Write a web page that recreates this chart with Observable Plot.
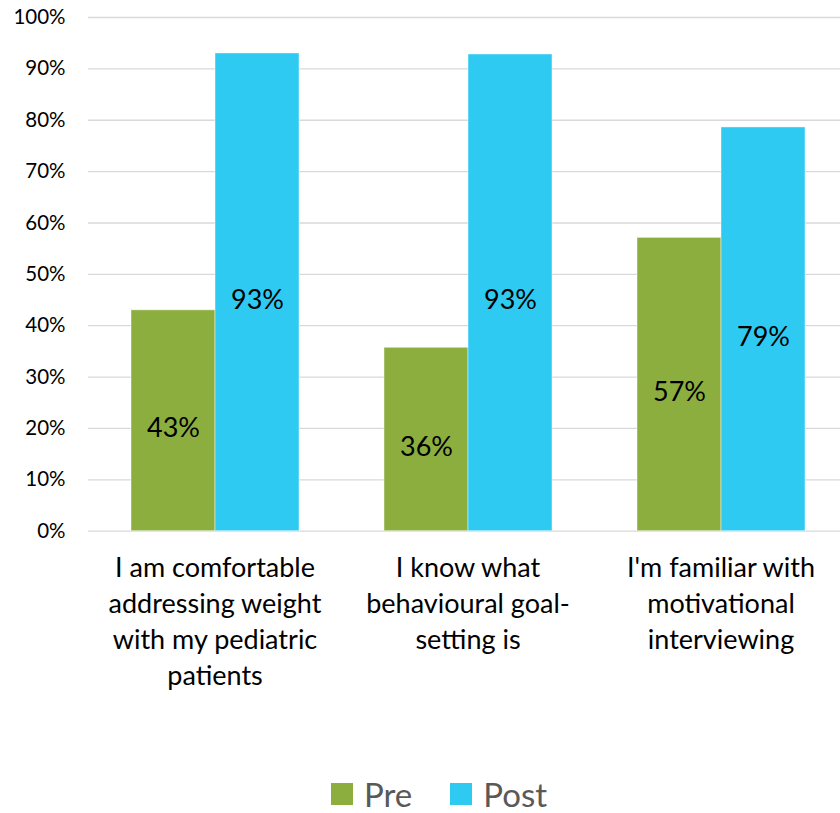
<!DOCTYPE html>
<html>
<head>
<meta charset="utf-8">
<script src="https://cdn.jsdelivr.net/npm/d3@7"></script>
<script src="https://cdn.jsdelivr.net/npm/@observablehq/plot@0.6"></script>
<style>
  html, body { margin: 0; padding: 0; background: #fff; }
  #chart { width: 840px; }
  .legend { display: flex; justify-content: center; align-items: center; padding-left: 38px;
            height: 36px; line-height: 36px; font-family: Lato, sans-serif; font-size: 33px; color: #595959; }
  .legend .item { display: flex; align-items: center; margin: 0 19px; }
  .legend .sw { width: 22px; height: 22px; margin-right: 11px; }
</style>
</head>
<body>
<div id="chart"></div>
<script>
const categories = [
  "I am comfortable\naddressing weight\nwith my pediatric\npatients",
  "I know what\nbehavioural goal-\nsetting is",
  "I'm familiar with\nmotivational\ninterviewing"
];
const series = ["Pre", "Post"];
const preValues = [0.43, 0.357, 0.571];
const postValues = [0.93, 0.928, 0.786];
const yTicks = [0, 0.1, 0.2, 0.3, 0.4, 0.5, 0.6, 0.7, 0.8, 0.9, 1.0];
const colors = ["#8cae3f", "#2ecaf2"];

const data = [];
categories.forEach((c, i) => {
  data.push({cat: c, series: "Pre", value: preValues[i]});
  data.push({cat: c, series: "Post", value: postValues[i]});
});
const pct = d3.format(".0%");

const chart = Plot.plot({
  width: 840,
  height: 776,
  marginLeft: 88,
  marginRight: -7,
  marginTop: 17,
  marginBottom: 245.3,
  style: {fontFamily: "Lato, sans-serif", color: "#000", background: "#fff"},
  fx: {domain: categories, paddingInner: 0, paddingOuter: 0, label: null},
  x: {domain: series, paddingInner: 0, paddingOuter: 0.494, axis: null},
  y: {domain: [0, 1], label: null},
  color: {domain: series, range: colors},
  marks: [
    Plot.ruleY(yTicks, {y: d => d, stroke: "#d9d9d9", strokeWidth: 1.3}),
    Plot.barY(data, {fx: "cat", x: "series", y: "value", fill: "series", stroke: "#ffffff", strokeOpacity: 0.45, strokeWidth: 1}),
    Plot.text(data, {fx: "cat", x: "series", y: d => d.value / 2, text: d => pct(d.value), fontSize: 27, fill: "#000", dy: 8}),
    Plot.axisY(yTicks, {tickSize: 0, tickPadding: 23, fontSize: 20.5, tickFormat: pct, label: null}),
    Plot.axisFx({anchor: "bottom", tickSize: 0, tickPadding: 20.5, fontSize: 27, lineHeight: 1.333, label: null})
  ]
});
document.getElementById("chart").appendChild(chart);

const legend = document.createElement("div");
legend.className = "legend";
series.forEach((s, i) => {
  const item = document.createElement("div");
  item.className = "item";
  const sw = document.createElement("span");
  sw.className = "sw";
  sw.style.background = colors[i];
  const t = document.createElement("span");
  t.textContent = s;
  item.appendChild(sw);
  item.appendChild(t);
  legend.appendChild(item);
});
document.getElementById("chart").appendChild(legend);
</script>
</body>
</html>
